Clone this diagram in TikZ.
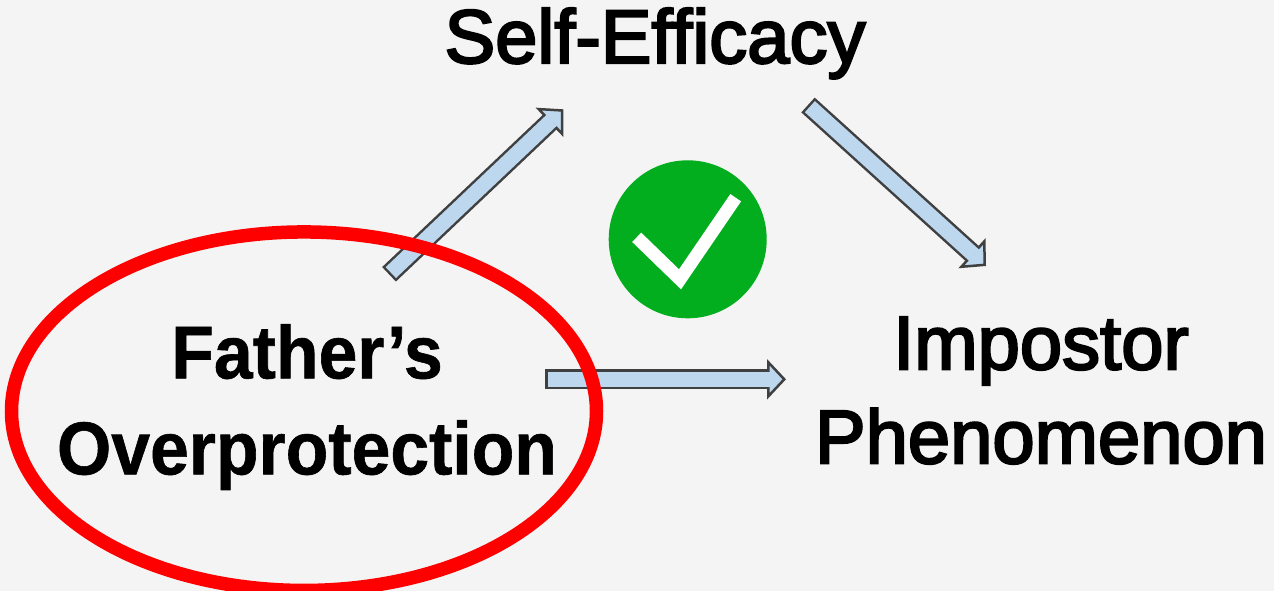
\documentclass[tikz,border=0pt]{standalone}
\usepackage{fontspec}
\setmainfont{Liberation Sans}
\newfontfamily\heavyfont[FakeBold=3, Ligatures=NoCommon]{Liberation Sans}
\newfontfamily\blackfont[BoldFeatures={FakeBold=0.8, FakeStretch=0.93}]{Liberation Sans}
\usetikzlibrary{arrows.meta, positioning, shapes.geometric}
\definecolor{mybg}{HTML}{F4F4F4}
\definecolor{myblue}{HTML}{BDD7EE}
\definecolor{myedge}{HTML}{404040}
\definecolor{mygreen}{HTML}{02AD1E}
\tikzset{
    label/.style = {font=\fontsize{76}{94}\selectfont\heavyfont, text=black, align=center, inner sep=0pt},
    boldlabel/.style = {label, font=\fontsize{75}{96}\selectfont\blackfont\bfseries},
    ring/.style = {ellipse, draw=red, line width=13.5pt, inner sep=0pt, minimum width=585pt, minimum height=358.5pt},
    badge/.style = {circle, fill=mygreen, inner sep=0pt, minimum size=158pt},
    flow/.style = {draw=myedge, line width=20pt,
        -{Triangle[length=19pt, width=40pt, line width=2.5pt, color=myedge, fill=myblue]},
        postaction={draw=myblue, -, line width=15pt, shorten >=16pt, shorten <=2.5pt}}
}
\begin{document}
\begin{tikzpicture}[x=1pt, y=-1pt]
  \useasboundingbox[fill=mybg] (0,0) rectangle (1274,591);

  \node[label, anchor=base] (efficacy) at (655,63) {Self-Efficacy};
  \node[label] (impostor) at (1041,390.5) {Impostor\\Phenomenon};
  \node[boldlabel] (father) at (307,407) {Father’s\\Overprotection};

  % arrow ends
  \coordinate (fromfather) at (389,274.3);
  \coordinate (toefficacy) at (563.3,109.3);
  \coordinate (fromefficacy) at (808,105);
  \coordinate (toimpostor) at (986,266);
  \coordinate (fromring) at (545,379.3);
  \coordinate (toright) at (786,379.3);

  \draw[flow] (fromfather) -- (toefficacy);
  \draw[flow] (fromefficacy) -- (toimpostor);
  \draw[flow] (fromring) -- (toright);

  \node[ring] (circled) at (304,411.2) {};

  \node[badge] (okmark) at (687.7,239.3) {};
  \draw[white, line width=13pt, miter limit=10] ([shift={(-51,-2)}]okmark.center) -- ([shift={(-7.7,40)}]okmark.center) -- ([shift={(48,-41.6)}]okmark.center);
\end{tikzpicture}
\end{document}
